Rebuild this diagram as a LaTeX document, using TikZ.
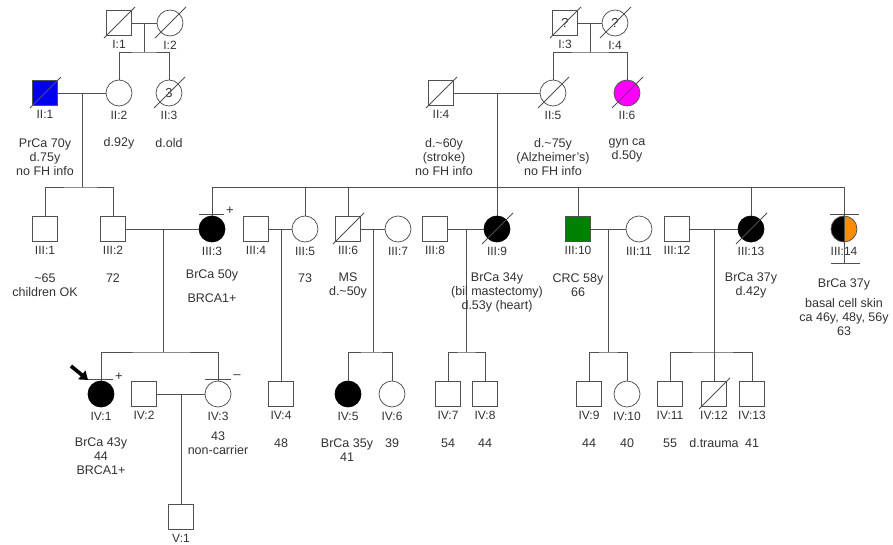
\documentclass[tikz,border=0pt]{standalone}
\usepackage{fontspec}
\setmainfont{Liberation Sans}
\usetikzlibrary{arrows.meta}
\definecolor{lc}{HTML}{505050}
\definecolor{tc}{HTML}{333333}
\definecolor{pblue}{HTML}{0000F0}
\definecolor{pmag}{HTML}{FF00FF}
\definecolor{pgreen}{HTML}{008000}
\definecolor{porange}{HTML}{FF8C00}
\begin{document}
\begin{tikzpicture}[x=1pt,y=-1pt,
  line/.style={draw=lc, line width=0.75pt},
  idl/.style={font=\fontsize{12}{14}\selectfont, text=tc, inner sep=0pt, label distance=4.5pt},
  id/.style={label={[idl]below:{#1}}},
  male/.style={draw=lc, line width=0.75pt, rectangle, minimum size=25pt, inner sep=0pt, fill=white, font=\fontsize{13}{13}\selectfont, text=tc},
  female/.style={draw=lc, line width=0.75pt, circle, minimum size=26pt, inner sep=0pt, fill=white, font=\fontsize{13}{13}\selectfont, text=tc},
  aff/.style={fill=black, draw=black},
  note/.style={font=\fontsize{12.5}{14}\selectfont, text=tc, align=center, inner sep=0pt},
  sign/.style={font=\fontsize{13}{13}\selectfont, text=tc, inner sep=0pt},
  slash/.style={draw=lc, line width=0.75pt},
]
\useasboundingbox[fill=white] (0,0) rectangle (893,544);

% half-filled III:14 (drawn first)
\begin{scope}
  \clip (825,210) rectangle (844,250);
  \fill[black] (844,229) circle[radius=13pt];
\end{scope}
\begin{scope}
  \clip (844,210) rectangle (865,250);
  \fill[porange] (844,229) circle[radius=13pt];
\end{scope}

% ---------- Generation I ----------
\node[male,id=I:1] (I1) at (119,23) {};
\node[female,id=I:2] (I2) at (170,23) {};
\node[male,id=I:3] (I3) at (565,23) {?};
\node[female,id=I:4] (I4) at (615,23) {?};

% ---------- Generation II ----------
\node[male,id=II:1,fill=pblue] (II1) at (45,93) {};
\node[female,id=II:2] (II2) at (119,93) {};
\node[female,id=II:3] (II3) at (169,93) {3};
\node[male,id=II:4] (II4) at (441,93) {};
\node[female,id=II:5] (II5) at (553,93) {};
\node[female,id=II:6,fill=pmag] (II6) at (627,93) {};

% ---------- Generation III ----------
\node[male,id=III:1] (III1) at (45,229) {};
\node[male,id=III:2] (III2) at (113,229) {};
\node[female,aff,id=III:3] (III3) at (212,229) {};
\node[male,id=III:4] (III4) at (256,229) {};
\node[female,id=III:5] (III5) at (305,229) {};
\node[male,id=III:6] (III6) at (348,229) {};
\node[female,id=III:7] (III7) at (398,229) {};
\node[male,id=III:8] (III8) at (435,229) {};
\node[female,aff,id=III:9] (III9) at (497,229) {};
\node[male,id=III:10,fill=pgreen] (III10) at (578,229) {};
\node[female,id=III:11] (III11) at (639,229) {};
\node[male,id=III:12] (III12) at (677,229) {};
\node[female,aff,id=III:13] (III13) at (751,229) {};
\node[female,id=III:14,fill=none] (III14) at (844,229) {};

% ---------- Generation IV ----------
\node[female,aff,id=IV:1] (IV1) at (101,394) {};
\node[male,id=IV:2] (IV2) at (144,394) {};
\node[female,id=IV:3] (IV3) at (218,394) {};
\node[male,id=IV:4] (IV4) at (281,394) {};
\node[female,aff,id=IV:5] (IV5) at (348,394) {};
\node[female,id=IV:6] (IV6) at (392,394) {};
\node[male,id=IV:7] (IV7) at (448,394) {};
\node[male,id=IV:8] (IV8) at (485,394) {};
\node[male,id=IV:9] (IV9) at (589,394) {};
\node[female,id=IV:10] (IV10) at (627,394) {};
\node[male,id=IV:11] (IV11) at (670,394) {};
\node[male,id=IV:12] (IV12) at (714,394) {};
\node[male,id=IV:13] (IV13) at (752,394) {};

% ---------- Generation V ----------
\node[male,id=V:1] (V1) at (181,517) {};

% ---------- deceased slashes ----------
\foreach \n in {I1,I2,I3,I4,II1,II3,II4,II5,II6,III6,III9,III13,IV12}
  \draw[slash] ([shift={(-15,15)}]\n.center) -- ([shift={(16,-16)}]\n.center);

% ---------- connectors ----------
% I:1 x I:2
\coordinate (mI12) at (144,23);
\coordinate (sI12) at (144,52);
\draw[line] (I1) -- (I2);
\draw[line] (mI12) -- (sI12);
\draw[line] (II2.north) |- (sI12) -| (II3.north);
% I:3 x I:4
\coordinate (mI34) at (590,23);
\coordinate (sI34) at (590,52);
\draw[line] (I3) -- (I4);
\draw[line] (mI34) -- (sI34);
\draw[line] (II5.north) |- (sI34) -| (II6.north);
% II:1 x II:2
\coordinate (mII12) at (82,93);
\coordinate (sII12) at (82,187);
\draw[line] (II1) -- (II2);
\draw[line] (mII12) -- (sII12);
\draw[line] (III1.north) |- (sII12) -| (III2.north);
% II:4 x II:5
\coordinate (mII45) at (497,93);
\coordinate (sII45) at (497,187);
\draw[line] (II4) -- (II5);
\draw[line] (mII45) -- (sII45);
\draw[line] (III3.north |- sII45) -- (III14.north |- sII45);
\foreach \c in {III3,III5,III6,III9,III10,III13,III14}
  \draw[line] (\c.north |- sII45) -- (\c.north);
% III:14 no offspring line
\coordinate (nb14) at (844,263);
\draw[line] (III14.north) -- (nb14);
% III:2 x III:3
\coordinate (mIII23) at (163,229);
\coordinate (sIII23) at (163,352);
\draw[line] (III2) -- (III3);
\draw[line] (mIII23) -- (sIII23);
\draw[line] (IV1.north) |- (sIII23) -| (IV3.north);
% III:4 x III:5
\coordinate (mIII45) at (281,229);
\draw[line] (III4) -- (III5);
\draw[line] (mIII45) -- (IV4.north);
% III:6 x III:7
\coordinate (mIII67) at (373,229);
\coordinate (sIII67) at (373,352);
\draw[line] (III6) -- (III7);
\draw[line] (mIII67) -- (sIII67);
\draw[line] (IV5.north) |- (sIII67) -| (IV6.north);
% III:8 x III:9
\coordinate (mIII89) at (466,229);
\coordinate (sIII89) at (466,352);
\draw[line] (III8) -- (III9);
\draw[line] (mIII89) -- (sIII89);
\draw[line] (IV7.north) |- (sIII89) -| (IV8.north);
% III:10 x III:11
\coordinate (mIII1011) at (608,229);
\coordinate (sIII1011) at (608,352);
\draw[line] (III10) -- (III11);
\draw[line] (mIII1011) -- (sIII1011);
\draw[line] (IV9.north) |- (sIII1011) -| (IV10.north);
% III:12 x III:13
\coordinate (mIII1213) at (714,229);
\coordinate (sIII1213) at (714,352);
\draw[line] (III12) -- (III13);
\draw[line] (mIII1213) -- (sIII1213);
\draw[line] (IV11.north) |- (sIII1213) -| (IV13.north);
\draw[line] (sIII1213) -- (IV12.north);
% IV:2 x IV:3
\coordinate (mIV23) at (181,394);
\draw[line] (IV2) -- (IV3);
\draw[line] (mIV23) -- (V1.north);

% ---------- tested bars and signs ----------
\coordinate (tb3a) at (199,214); \coordinate (tb3b) at (224,214);
\draw[line] (tb3a) -- (tb3b);
\node[sign] (p3) at (230,211) {+};
\coordinate (tb14a) at (830,214); \coordinate (tb14b) at (859,214);
\draw[line] (tb14a) -- (tb14b);
\coordinate (bb14a) at (831,263); \coordinate (bb14b) at (860,263);
\draw[line] (bb14a) -- (bb14b);
\coordinate (tbIV1a) at (87,379); \coordinate (tbIV1b) at (113,379);
\draw[line] (tbIV1a) -- (tbIV1b);
\node[sign] (pIV1) at (119,377) {+};
\coordinate (tbIV3a) at (205,379); \coordinate (tbIV3b) at (231,379);
\draw[line] (tbIV3a) -- (tbIV3b);
\node[sign] (mIV3) at (237,377) {–};

% proband arrow
\coordinate (arrS) at (71,366);
\coordinate (arrE) at (88,380);
\draw[black, line width=3.6pt, -{Triangle[length=8pt,width=11pt]}] (arrS) -- (arrE);

% ---------- notes ----------
\node[note] (nII1) at (45,157) {PrCa 70y\\d.75y\\no FH info};
\node[note] (nII2) at (119,143) {d.92y};
\node[note] (nII3) at (169,143) {d.old};
\node[note] (nII4) at (444,157) {d.\textasciitilde60y\\(stroke)\\no FH info};
\node[note] (nII5) at (553,157) {d.\textasciitilde75y\\(Alzheimer's)\\no FH info};
\node[note] (nII6) at (627,150) {gyn ca\\d.50y};
\node[note] (nIII1) at (45,285) {\textasciitilde65\\children OK};
\node[note] (nIII2) at (113,278) {72};
\node[note] (nIII3) at (212,286) {BrCa 50y\\[10pt]BRCA1+};
\node[note] (nIII5) at (305,278) {73};
\node[note] (nIII6) at (348,285) {MS\\d.\textasciitilde50y};
\node[note] (nIII9) at (497,292) {BrCa 34y\\(bil mastectomy)\\d.53y (heart)};
\node[note] (nIII10) at (578,285) {CRC 58y\\66};
\node[note] (nIII13) at (751,285) {BrCa 37y\\d.42y};
\node[note] (nIII14) at (844,307.5) {BrCa 37y\\[6pt]basal cell skin\\ca 46y, 48y, 56y\\63};
\node[note] (nIV1) at (101,456) {BrCa 43y\\44\\BRCA1+};
\node[note] (nIV3) at (218,443) {43\\non-carrier};
\node[note] (nIV4) at (281,443) {48};
\node[note] (nIV5) at (347,450) {BrCa 35y\\41};
\node[note] (nIV6) at (392,443) {39};
\node[note] (nIV7) at (448,443) {54};
\node[note] (nIV8) at (485,443) {44};
\node[note] (nIV9) at (589,443) {44};
\node[note] (nIV10) at (627,443) {40};
\node[note] (nIV11) at (670,443) {55};
\node[note] (nIV12) at (714,443) {d.trauma};
\node[note] (nIV13) at (752,443) {41};
\end{tikzpicture}
\end{document}
